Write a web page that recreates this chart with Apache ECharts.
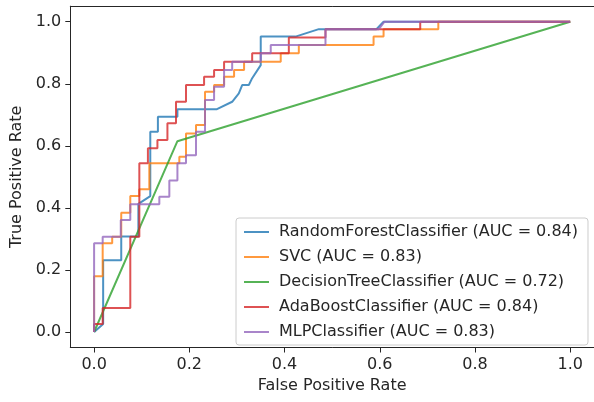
<!DOCTYPE html>
<html>
<head>
<meta charset="utf-8">
<script src="https://cdn.jsdelivr.net/npm/echarts@6/dist/echarts.min.js"></script>
<style>
  html, body { margin: 0; padding: 0; background: #fff; }
  #chart { width: 594px; height: 402px; }
</style>
</head>
<body>
<div id="chart"></div>
<script>
// ROC points [fpr, tpr]
const rfRoc = [[0,0],[0.019,0.026],[0.019,0.231],[0.057,0.231],[0.057,0.308],[0.093,0.308],[0.093,0.413],[0.118,0.438],[0.118,0.645],[0.134,0.645],[0.134,0.694],[0.175,0.694],[0.175,0.718],[0.258,0.718],[0.29,0.742],[0.304,0.769],[0.311,0.796],[0.325,0.796],[0.332,0.818],[0.35,0.86],[0.35,0.952],[0.423,0.952],[0.472,0.976],[0.593,0.976],[0.608,1],[1,1]];
const svcRoc = [[0,0],[0,0.18],[0.018,0.18],[0.018,0.286],[0.038,0.286],[0.038,0.307],[0.057,0.307],[0.057,0.384],[0.076,0.384],[0.076,0.438],[0.095,0.438],[0.095,0.46],[0.116,0.46],[0.116,0.544],[0.179,0.544],[0.179,0.565],[0.193,0.565],[0.193,0.64],[0.214,0.64],[0.214,0.667],[0.233,0.667],[0.233,0.774],[0.252,0.774],[0.252,0.796],[0.273,0.796],[0.273,0.823],[0.294,0.823],[0.294,0.844],[0.315,0.844],[0.315,0.871],[0.392,0.871],[0.392,0.898],[0.43,0.898],[0.43,0.925],[0.587,0.925],[0.587,0.952],[0.608,0.952],[0.608,0.976],[0.723,0.976],[0.723,1],[1,1]];
const dtRoc = [[0,0],[0.175,0.615],[1,1]];
const adaRoc = [[0,0],[0,0.026],[0.018,0.026],[0.018,0.077],[0.076,0.077],[0.076,0.307],[0.095,0.307],[0.095,0.544],[0.113,0.544],[0.113,0.592],[0.133,0.592],[0.133,0.619],[0.154,0.619],[0.154,0.673],[0.172,0.673],[0.172,0.742],[0.193,0.742],[0.193,0.796],[0.231,0.796],[0.231,0.823],[0.252,0.823],[0.252,0.844],[0.273,0.844],[0.273,0.871],[0.332,0.871],[0.332,0.898],[0.409,0.898],[0.409,0.949],[0.486,0.949],[0.486,0.976],[0.685,0.976],[0.685,1],[1,1]];
const mlpRoc = [[0,0],[0,0.286],[0.018,0.286],[0.018,0.307],[0.056,0.307],[0.056,0.361],[0.076,0.361],[0.076,0.412],[0.137,0.412],[0.137,0.436],[0.158,0.436],[0.158,0.488],[0.175,0.488],[0.175,0.544],[0.193,0.544],[0.193,0.57],[0.214,0.57],[0.214,0.645],[0.233,0.645],[0.233,0.748],[0.252,0.748],[0.252,0.79],[0.273,0.79],[0.273,0.844],[0.29,0.844],[0.29,0.871],[0.35,0.871],[0.35,0.898],[0.371,0.898],[0.371,0.925],[0.486,0.925],[0.486,0.976],[0.598,0.976],[0.61,1],[1,1]];

const names = [
  'RandomForestClassifier (AUC = 0.84)',
  'SVC (AUC = 0.83)',
  'DecisionTreeClassifier (AUC = 0.72)',
  'AdaBoostClassifier (AUC = 0.84)',
  'MLPClassifier (AUC = 0.83)'
];
const colors = ['#1f77b4', '#ff7f0e', '#2ca02c', '#d62728', '#9467bd'];
const ticks = [0, 0.2, 0.4, 0.6, 0.8, 1.0];

const font = 'DejaVu Sans';
const textColor = '#262626';

const chart = echarts.init(document.getElementById('chart'));

const makeSeries = (data, i) => ({
  name: names[i],
  type: 'line',
  data: data,
  symbol: 'none',
  showSymbol: false,
  color: colors[i],
  lineStyle: { width: 2, color: colors[i], opacity: 0.8 },
  z: 2 + i
});

const axisCommon = {
  type: 'value',
  min: -0.05,
  max: 1.05,
  nameLocation: 'middle',
  nameTextStyle: { fontFamily: font, fontSize: 16, color: textColor },
  axisLine: { show: true, onZero: false, lineStyle: { color: '#262626', width: 1 } },
  axisTick: { show: true, inside: false, length: 5, lineStyle: { color: '#262626' }, customValues: ticks },
  axisLabel: {
    fontFamily: font, fontSize: 16, color: textColor, margin: 9,
    customValues: ticks,
    formatter: (v) => v.toFixed(1)
  },
  splitLine: { show: false }
};

// top spine only (right spine falls outside the picture)
const topSpine = {
  type: 'value',
  position: 'top',
  min: -0.05,
  max: 1.05,
  axisLine: { show: true, onZero: false, lineStyle: { color: '#262626', width: 1 } },
  axisTick: { show: false },
  axisLabel: { show: false },
  splitLine: { show: false }
};

chart.setOption({
  animation: false,
  backgroundColor: '#fff',
  grid: { left: 70.3, top: 6.2, width: 526.3, height: 341.3 },
  xAxis: [
    Object.assign({}, axisCommon, { name: 'False Positive Rate', nameGap: 28, position: 'bottom' }),
    topSpine
  ],
  yAxis: Object.assign({}, axisCommon, { name: 'True Positive Rate', nameGap: 44 }),
  legend: {
    orient: 'vertical',
    left: 236,
    top: 218,
    padding: [6, 10, 5, 7],
    itemWidth: 25,
    itemHeight: 15,
    itemGap: 9,
    itemStyle: { opacity: 0 },
    backgroundColor: 'rgba(255,255,255,0.8)',
    borderColor: '#cccccc',
    borderWidth: 1,
    borderRadius: 3,
    textStyle: { fontFamily: font, fontSize: 16, color: textColor, padding: [0, 0, 0, 5] },
    data: names
  },
  series: [rfRoc, svcRoc, dtRoc, adaRoc, mlpRoc].map(makeSeries)
});
</script>
</body>
</html>
